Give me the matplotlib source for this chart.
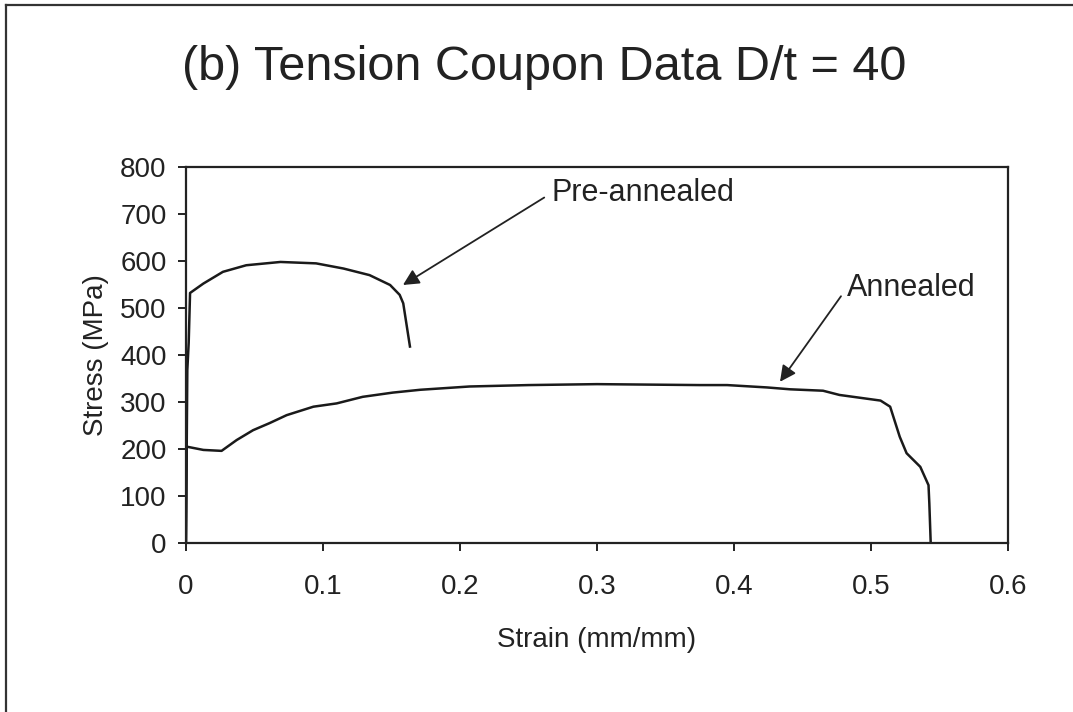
import matplotlib
matplotlib.use("Agg")
import matplotlib.pyplot as plt
from matplotlib.lines import Line2D

plt.rcParams['font.family'] = ['Liberation Sans', 'DejaVu Sans']

# Pre-annealed coupon (strain mm/mm, stress MPa)
pre_strain = [0.0, 0.001, 0.002, 0.003, 0.0127, 0.027, 0.044, 0.069, 0.095,
              0.115, 0.134, 0.149, 0.156, 0.1586, 0.1635]
pre_stress = [0, 368, 426, 532, 552, 577, 591, 598, 595,
              584, 570, 549, 528, 510, 418]

# Annealed coupon
ann_strain = [0.0, 0.0005, 0.0127, 0.026, 0.037, 0.049, 0.061, 0.0735, 0.093,
              0.110, 0.129, 0.151, 0.171, 0.207, 0.25, 0.30, 0.375, 0.395,
              0.424, 0.441, 0.465, 0.477, 0.507, 0.514, 0.521, 0.526, 0.536,
              0.542, 0.5426, 0.5436]
ann_stress = [0, 205, 198, 196, 219, 240, 255, 272, 290,
              297, 311, 320, 326, 333, 336, 338, 336, 336,
              331, 327, 324, 315, 303, 290, 226, 191, 162,
              123, 84, 0]

x_ticks = [0, 0.1, 0.2, 0.3, 0.4, 0.5, 0.6]
x_tick_labels = ['0', '0.1', '0.2', '0.3', '0.4', '0.5', '0.6']
y_ticks = [0, 100, 200, 300, 400, 500, 600, 700, 800]

title = "(b) Tension Coupon Data D/t = 40"
labels = ["Pre-annealed", "Annealed"]

fig = plt.figure(figsize=(10.73, 7.12), dpi=100)
ax = fig.add_axes([0.1733, 0.2374, 0.9394 - 0.1733, 0.7654 - 0.2374])

ink = '#222222'
ax.plot(pre_strain, pre_stress, color='#1a1a1a', lw=1.8)
ax.plot(ann_strain, ann_stress, color='#1a1a1a', lw=1.8)

ax.set_xlim(0, 0.6)
ax.set_ylim(0, 800)
ax.set_xticks(x_ticks)
ax.set_xticklabels(x_tick_labels)
ax.set_yticks(y_ticks)
for s in ax.spines.values():
    s.set_color(ink)
    s.set_linewidth(1.6)
ax.tick_params(direction='out', length=6, width=1.4, colors=ink,
               labelsize=20, labelcolor=ink)
ax.tick_params(axis='x', pad=16)
ax.tick_params(axis='y', pad=8)

ax.set_xlabel("Strain (mm/mm)", fontsize=20, color=ink, labelpad=20)
ax.set_ylabel("Stress (MPa)", fontsize=20, color=ink, labelpad=8)

fig.text(0.507, 0.905, title, fontsize=35, ha='center', va='center', color=ink)

arrow_kw = dict(arrowstyle='-|>', mutation_scale=24, color=ink, lw=1.3,
                shrinkA=4, shrinkB=0, relpos=(0, 0.5))
ax.annotate(labels[0], xy=(0.1584, 549), xytext=(0.267, 745),
            fontsize=22, color=ink, ha='left', va='center',
            arrowprops=arrow_kw)
ax.annotate(labels[1], xy=(0.4336, 343), xytext=(0.4825, 543),
            fontsize=22, color=ink, ha='left', va='center',
            arrowprops=arrow_kw)

# outer frame (top and left edges visible)
fig.add_artist(Line2D([6/1073, 6/1073], [0, 1 - 5/712], transform=fig.transFigure,
                      color='#333333', lw=1.6))
fig.add_artist(Line2D([6/1073, 1], [1 - 5/712, 1 - 5/712], transform=fig.transFigure,
                      color='#333333', lw=1.6))

fig.savefig("out.png", dpi=100, facecolor='white')
